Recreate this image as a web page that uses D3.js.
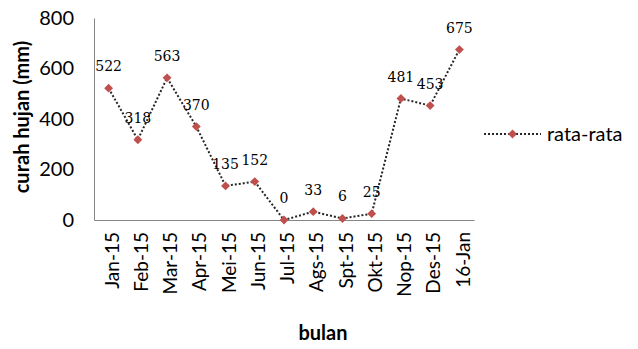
<!DOCTYPE html>
<html>
<head>
<meta charset="utf-8">
<script src="https://cdn.jsdelivr.net/npm/d3@7"></script>
<style>
  html, body { margin: 0; padding: 0; background: #fff; }
  svg { display: block; }
</style>
</head>
<body>
<svg id="chart" width="638" height="349"></svg>
<script>
// Monthly average rainfall
const months = ["Jan-15","Feb-15","Mar-15","Apr-15","Mei-15","Jun-15","Jul-15","Ags-15","Spt-15","Okt-15","Nop-15","Des-15","16-Jan"];
const rainfall = [522, 318, 563, 370, 135, 152, 0, 33, 6, 25, 481, 453, 675];
const yTicks = [0, 200, 400, 600, 800];
const seriesName = "rata-rata";

const svg = d3.select("#chart");
const plot = { left: 94, right: 474, top: 18, bottom: 220 };
const sansFont = "Lato, 'Open Sans', sans-serif";
const labelFont = "'DejaVu Serif', 'Liberation Serif', serif";

const x = d3.scalePoint().domain(months).range([plot.left, plot.right]).padding(0.5);
const y = d3.scaleLinear().domain([0, 800]).range([plot.bottom, plot.top]);

// axes
const yAxis = svg.append("g")
  .attr("transform", `translate(${plot.left},0)`)
  .call(d3.axisLeft(y).tickValues(yTicks).tickSize(0).tickPadding(20));
yAxis.select(".domain").attr("stroke", "#868686").attr("stroke-width", 1);
yAxis.selectAll("text").attr("font-family", sansFont).attr("font-size", 20).attr("fill", "#000");

const xAxis = svg.append("g")
  .attr("transform", `translate(0,${plot.bottom})`)
  .call(d3.axisBottom(x).tickSize(0).tickSizeOuter(0));
xAxis.select(".domain").attr("stroke", "#868686").attr("stroke-width", 1);
xAxis.selectAll("text")
  .attr("font-family", sansFont).attr("font-size", 19).attr("fill", "#000")
  .attr("transform", "rotate(-90)")
  .attr("text-anchor", "end")
  .attr("x", -12).attr("y", 3).attr("dy", "0.35em");

// axis titles
svg.append("text")
  .attr("transform", "translate(29,117) rotate(-90)")
  .attr("text-anchor", "middle")
  .attr("font-family", sansFont).attr("font-weight", "bold").attr("font-size", 20)
  .text("curah hujan (mm)");

svg.append("text")
  .attr("x", 323).attr("y", 340)
  .attr("text-anchor", "middle")
  .attr("font-family", sansFont).attr("font-weight", "bold").attr("font-size", 20)
  .text("bulan");

// series line
const line = d3.line().x((d, i) => x(months[i])).y(d => y(d));
svg.append("path")
  .datum(rainfall)
  .attr("d", line)
  .attr("fill", "none")
  .attr("stroke", "#262626")
  .attr("stroke-width", 2)
  .attr("stroke-dasharray", "2,2");

const diamond = d3.symbol().type(d3.symbolDiamond2).size(50);
svg.append("g").selectAll("path")
  .data(rainfall)
  .join("path")
  .attr("d", diamond)
  .attr("transform", (d, i) => `translate(${x(months[i])},${y(d)})`)
  .attr("fill", "#C0504D");

// value labels
svg.append("g").selectAll("text")
  .data(rainfall)
  .join("text")
  .attr("x", (d, i) => x(months[i]))
  .attr("y", d => y(d) - 17)
  .attr("text-anchor", "middle")
  .attr("font-family", labelFont).attr("font-size", 14).attr("fill", "#000")
  .text(d => d);

// legend
const lg = svg.append("g").attr("transform", "translate(484,134)");
lg.append("line")
  .attr("x1", 0).attr("x2", 57).attr("y1", 0).attr("y2", 0)
  .attr("stroke", "#262626").attr("stroke-width", 2).attr("stroke-dasharray", "2,2");
lg.append("path").attr("d", diamond).attr("transform", "translate(28.5,0)").attr("fill", "#C0504D");
lg.append("text")
  .attr("x", 63).attr("y", 0).attr("dy", "0.35em")
  .attr("font-family", sansFont).attr("font-size", 20)
  .text(seriesName);
</script>
</body>
</html>
